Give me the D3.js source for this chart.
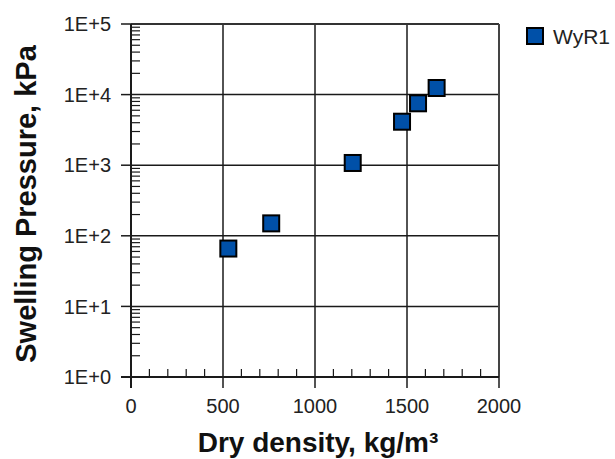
<!DOCTYPE html>
<html>
<head>
<meta charset="utf-8">
<script src="https://cdn.jsdelivr.net/npm/d3@7"></script>
<style>
html,body{margin:0;padding:0;background:#fff;}
svg text{font-family:"Liberation Sans",Arial,sans-serif;}
</style>
</head>
<body>
<svg id="chart" width="615" height="459"></svg>
<script>
const seriesName = "WyR1";
const dryDensity = [529, 762, 1205, 1473, 1560, 1661];
const swellingPressure = [66, 150, 1075, 4130, 7530, 12400];
const xTickValues = [0, 500, 1000, 1500, 2000];
const yTickValues = [1, 10, 100, 1000, 10000, 100000];
const yTickLabels = ["1E+0", "1E+1", "1E+2", "1E+3", "1E+4", "1E+5"];
const xTitle = "Dry density, kg/m³";
const yTitle = "Swelling Pressure, kPa";

const svg = d3.select("#chart");
const L = 131, R = 499, T = 24, B = 377;
const x = d3.scaleLinear().domain([0, 2000]).range([L, R]);
const y = d3.scaleLog().domain([1, 100000]).range([B, T]);
const ink = "#1a1a1a";

// vertical grid lines
svg.append("g").selectAll("line").data(xTickValues.slice(1))
  .join("line")
  .attr("x1", d => x(d)).attr("x2", d => x(d))
  .attr("y1", T).attr("y2", B)
  .attr("stroke", ink).attr("stroke-width", 1.5);
// horizontal grid lines
svg.append("g").selectAll("line").data(yTickValues.slice(1))
  .join("line")
  .attr("x1", L).attr("x2", R)
  .attr("y1", d => y(d)).attr("y2", d => y(d))
  .attr("stroke", ink).attr("stroke-width", 1.5);

// minor y ticks (inside)
const minorY = [];
for (let e = 0; e < 5; e++) for (let m = 2; m <= 9; m++) minorY.push(m * Math.pow(10, e));
svg.append("g").selectAll("line").data(minorY)
  .join("line")
  .attr("x1", L).attr("x2", L + 9)
  .attr("y1", d => y(d)).attr("y2", d => y(d))
  .attr("stroke", ink).attr("stroke-width", 1.2);
// major y ticks (outside)
svg.append("g").selectAll("line").data(yTickValues)
  .join("line")
  .attr("x1", L - 10).attr("x2", L)
  .attr("y1", d => y(d)).attr("y2", d => y(d))
  .attr("stroke", ink).attr("stroke-width", 1.5);

// minor x ticks (inside, upward)
const minorX = d3.range(100, 2000, 100).filter(v => v % 500 !== 0);
svg.append("g").selectAll("line").data(minorX)
  .join("line")
  .attr("x1", d => x(d)).attr("x2", d => x(d))
  .attr("y1", B - 8).attr("y2", B)
  .attr("stroke", ink).attr("stroke-width", 1.2);
// major x ticks (outside)
svg.append("g").selectAll("line").data(xTickValues)
  .join("line")
  .attr("x1", d => x(d)).attr("x2", d => x(d))
  .attr("y1", B).attr("y2", B + 11)
  .attr("stroke", ink).attr("stroke-width", 1.5);

// frame
svg.append("line").attr("x1", L).attr("x2", R).attr("y1", T).attr("y2", T).attr("stroke", "#333").attr("stroke-width", 2);
svg.append("line").attr("x1", R).attr("x2", R).attr("y1", T).attr("y2", B).attr("stroke", "#444").attr("stroke-width", 2);
svg.append("line").attr("x1", L).attr("x2", L).attr("y1", T).attr("y2", B + 11).attr("stroke", ink).attr("stroke-width", 2);
svg.append("line").attr("x1", L - 10).attr("x2", R).attr("y1", B).attr("y2", B).attr("stroke", ink).attr("stroke-width", 2);

// tick labels
svg.append("g").selectAll("text").data(yTickValues)
  .join("text")
  .attr("x", L - 20).attr("y", d => y(d))
  .attr("dy", "0.36em")
  .attr("text-anchor", "end")
  .attr("font-size", 20)
  .attr("fill", "#222")
  .text((d, i) => yTickLabels[i]);
svg.append("g").selectAll("text").data(xTickValues)
  .join("text")
  .attr("x", d => x(d)).attr("y", 413)
  .attr("text-anchor", "middle")
  .attr("font-size", 20)
  .attr("fill", "#222")
  .text(d => d);

// axis titles
svg.append("text")
  .attr("x", 318).attr("y", 452)
  .attr("text-anchor", "middle")
  .attr("font-size", 28).attr("font-weight", "bold")
  .attr("fill", "#111")
  .text(xTitle);
svg.append("text")
  .attr("transform", "translate(36,204) rotate(-90)")
  .attr("text-anchor", "middle")
  .attr("font-size", 29).attr("font-weight", "bold")
  .attr("fill", "#111")
  .text(yTitle);

// data points
const S = 16;
svg.append("g").selectAll("rect").data(dryDensity)
  .join("rect")
  .attr("x", (d) => x(d) - S / 2)
  .attr("y", (d, i) => y(swellingPressure[i]) - S / 2)
  .attr("width", S).attr("height", S)
  .attr("fill", "#0050A8").attr("stroke", "#000").attr("stroke-width", 2);

// legend
svg.append("rect").attr("x", 527).attr("y", 28).attr("width", 16).attr("height", 16)
  .attr("fill", "#0050A8").attr("stroke", "#000").attr("stroke-width", 2);
svg.append("text").attr("x", 553).attr("y", 44)
  .attr("font-size", 21).attr("fill", "#222")
  .text(seriesName);
</script>
</body>
</html>
